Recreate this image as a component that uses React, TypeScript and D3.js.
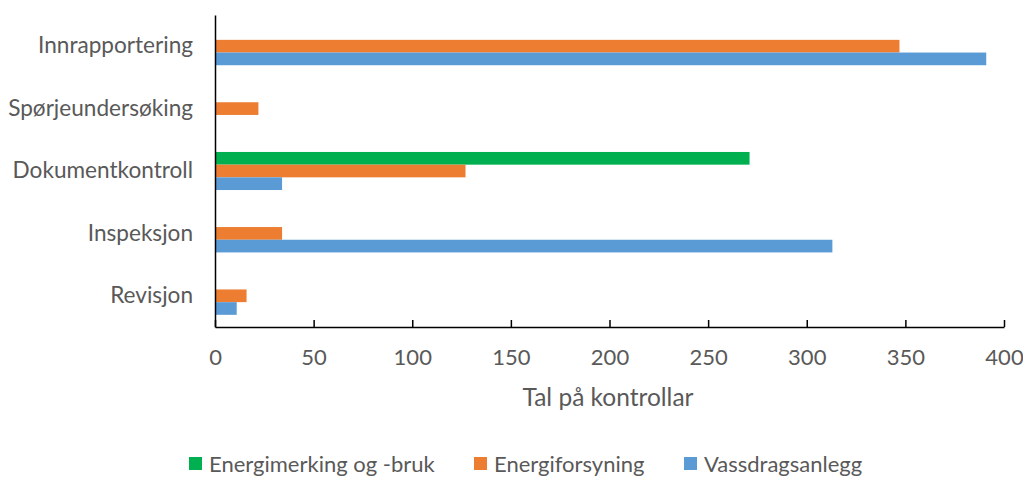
import * as React from 'react';
import * as d3 from 'd3';

const categories = ['Innrapportering', 'Spørjeundersøking', 'Dokumentkontroll', 'Inspeksjon', 'Revisjon'];
const seriesNames = ['Energimerking og -bruk', 'Energiforsyning', 'Vassdragsanlegg'];
const energimerking = [0, 0, 271, 0, 0];
const energiforsyning = [347, 22, 127, 34, 16];
const vassdrag = [391, 0, 34, 313, 11];
const xTicks = [0, 50, 100, 150, 200, 250, 300, 350, 400];
const colors = ['#00B050', '#ED7D31', '#5B9BD5'];

const FONT = 'Lato, "Open Sans", sans-serif';
const TEXT = '#595959';

export default function App() {
  const ref = React.useRef<SVGSVGElement>(null);

  React.useEffect(() => {
    const svg = d3.select(ref.current);
    svg.selectAll('*').remove();

    const values = [energimerking, energiforsyning, vassdrag];
    const left = 215, right = 1004, top = 15, bottom = 327;

    const x = d3.scaleLinear().domain([0, 400]).range([left, right]);
    const y = d3.scaleBand<string>()
      .domain(categories)
      .range([top, bottom])
      .paddingInner(0.39)
      .paddingOuter(0.195);
    const ySub = d3.scaleBand<number>()
      .domain([0, 1, 2])
      .range([0, y.bandwidth()]);

    // bars
    categories.forEach((c, ci) => {
      values.forEach((vals, si) => {
        if (!vals[ci]) return;
        svg.append('rect')
          .attr('x', x(0))
          .attr('y', (y(c) as number) + (ySub(si) as number))
          .attr('width', x(vals[ci]) - x(0))
          .attr('height', ySub.bandwidth())
          .attr('fill', colors[si]);
      });
    });

    // x axis
    const gx = svg.append('g')
      .attr('transform', `translate(0,${bottom})`)
      .call(d3.axisBottom(x).tickValues(xTicks).tickSizeInner(-7).tickSizeOuter(0).tickPadding(22));
    gx.select('.domain').attr('stroke', '#000').attr('stroke-width', 1.5);
    gx.selectAll('.tick line').attr('stroke', '#000').attr('stroke-width', 1.5);
    gx.selectAll('.tick text')
      .attr('fill', TEXT)
      .style('font-family', FONT)
      .style('font-size', '22px');

    // y axis
    const gy = svg.append('g')
      .attr('transform', `translate(${left},0)`)
      .call(d3.axisLeft(y).tickSize(0).tickPadding(22));
    gy.select('.domain').attr('stroke', '#000').attr('stroke-width', 1.5);
    gy.selectAll('.tick text')
      .attr('fill', TEXT)
      .style('font-family', FONT)
      .style('font-size', '22.6px');

    // axis title
    svg.append('text')
      .attr('x', 608)
      .attr('y', 406)
      .attr('text-anchor', 'middle')
      .attr('fill', TEXT)
      .style('font-family', FONT)
      .style('font-size', '24.5px')
      .text('Tal på kontrollar');

    // legend
    const legendX = [189, 474, 684];
    seriesNames.forEach((name, i) => {
      svg.append('rect')
        .attr('x', legendX[i])
        .attr('y', 457)
        .attr('width', 13)
        .attr('height', 13)
        .attr('fill', colors[i]);
      svg.append('text')
        .attr('x', legendX[i] + 20)
        .attr('y', 472)
        .attr('fill', TEXT)
        .style('font-family', FONT)
        .style('font-size', '22px')
        .text(name);
    });
  }, []);

  return (
    <svg ref={ref} width={1023} height={477}
      style={{ position: 'absolute', left: 0, top: 0, background: '#fff' }} />
  );
}
